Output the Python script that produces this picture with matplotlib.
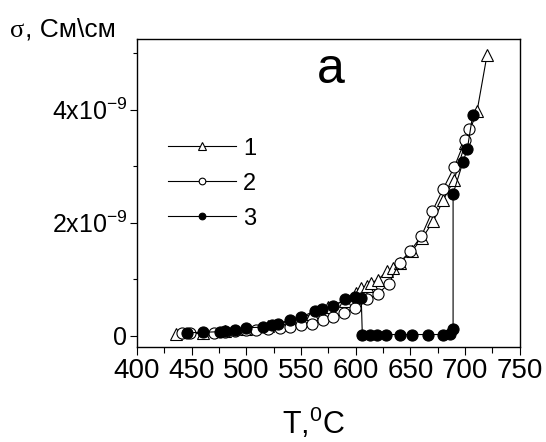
import matplotlib
matplotlib.use('Agg')
import matplotlib.pyplot as plt
from matplotlib.ticker import MultipleLocator, FixedLocator

plt.rcParams['font.family'] = ['Liberation Sans', 'DejaVu Sans']
plt.rcParams['mathtext.fontset'] = 'custom'
plt.rcParams['mathtext.rm'] = 'Liberation Sans'
plt.rcParams['mathtext.it'] = 'Liberation Sans:italic'

# series 1 (open triangles)
t1 = [436, 460, 480, 500, 520, 540, 560, 575, 590, 600, 605, 610, 614, 620,
      629, 634, 640, 651, 661, 671, 680, 690, 700, 711, 720]
s1 = [0.03, 0.05, 0.08, 0.12, 0.17, 0.26, 0.38, 0.50, 0.62, 0.75, 0.85, 0.88,
      0.93, 0.99, 1.14, 1.20, 1.29, 1.49, 1.73, 2.03, 2.40, 2.76, 3.40, 3.98, 4.96]

# series 2 (open circles)
t2 = [441, 448, 470, 480, 490, 500, 509, 520, 531, 540, 550, 560, 570, 579,
      589, 599, 610, 620, 630, 640, 650, 660, 670, 680, 690, 700, 704]
s2 = [0.04, 0.04, 0.05, 0.07, 0.08, 0.10, 0.10, 0.11, 0.13, 0.15, 0.18, 0.21,
      0.27, 0.33, 0.40, 0.49, 0.64, 0.74, 0.91, 1.29, 1.50, 1.76, 2.20, 2.60,
      2.98, 3.46, 3.65]

# series 3 (filled circles)
t3 = [446, 460, 476, 480, 490, 500, 515, 523, 529, 540, 550, 563, 569, 579,
      590, 599, 605, 606, 613, 619, 628, 640, 651, 666, 680, 686, 689, 689,
      698, 702, 707]
s3 = [0.05, 0.06, 0.07, 0.08, 0.10, 0.14, 0.15, 0.19, 0.21, 0.28, 0.33, 0.44,
      0.47, 0.52, 0.64, 0.69, 0.67, 0.02, 0.02, 0.02, 0.02, 0.02, 0.02, 0.02,
      0.02, 0.03, 0.12, 2.51, 3.07, 3.30, 3.91]

scale = 1e-9
s1 = [v * scale for v in s1]
s2 = [v * scale for v in s2]
s3 = [v * scale for v in s3]

fig = plt.figure(figsize=(5.46, 4.42), dpi=100)
ax = fig.add_axes([0.251, 0.215, 0.701, 0.697])

ax.plot(t1, s1, '-', color='black', lw=0.8, marker='^', ms=9,
        mfc='white', mec='black', mew=0.8, label='1')
ax.plot(t2, s2, '-', color='black', lw=0.8, marker='o', ms=8,
        mfc='white', mec='black', mew=0.8, label='2')
ax.plot(t3, s3, '-', color='black', lw=0.8, marker='o', ms=8,
        mfc='black', mec='black', mew=0.8, label='3')

ax.set_xlim(400, 750)
ax.set_ylim(-0.2e-9, 5.25e-9)
ax.xaxis.set_major_locator(MultipleLocator(50))
ax.xaxis.set_minor_locator(MultipleLocator(25))
ax.yaxis.set_major_locator(FixedLocator([0, 2e-9, 4e-9]))
ax.yaxis.set_minor_locator(FixedLocator([1e-9, 3e-9, 5e-9]))
ax.set_yticklabels(['0', r'2x10$^{-9}$', r'4x10$^{-9}$'])
ax.tick_params(axis='x', which='major', direction='out', length=6, width=0.8,
               labelsize=20, pad=2)
ax.tick_params(axis='x', which='minor', direction='out', length=4, width=0.8)
ax.tick_params(axis='y', which='major', direction='out', length=5, width=0.8,
               labelsize=18, pad=2)
ax.tick_params(axis='y', which='minor', direction='out', length=3, width=0.8)
for sp in ax.spines.values():
    sp.set_linewidth(1.0)

ax.legend(loc='center left', bbox_to_anchor=(0.08, 0.53), frameon=False,
          fontsize=17, markerscale=0.6, handlelength=2.9, handletextpad=0.3,
          labelspacing=0.55, borderpad=0, borderaxespad=0)

# axis labels and panel letter
fig.text(313 / 546, 1 - 434 / 442, r'T,$^{0}$C', fontsize=22,
         ha='center', va='baseline')
fig.text(10 / 546, 1 - 37 / 442, 'σ', fontsize=19, family='Liberation Serif',
         ha='left', va='baseline')
fig.text(25 / 546, 1 - 37 / 442, ', См\\см', fontsize=19,
         ha='left', va='baseline')
fig.text(331 / 546, 1 - 83 / 442, 'a', fontsize=36,
         ha='center', va='baseline')

fig.savefig('out.png', dpi=100)
